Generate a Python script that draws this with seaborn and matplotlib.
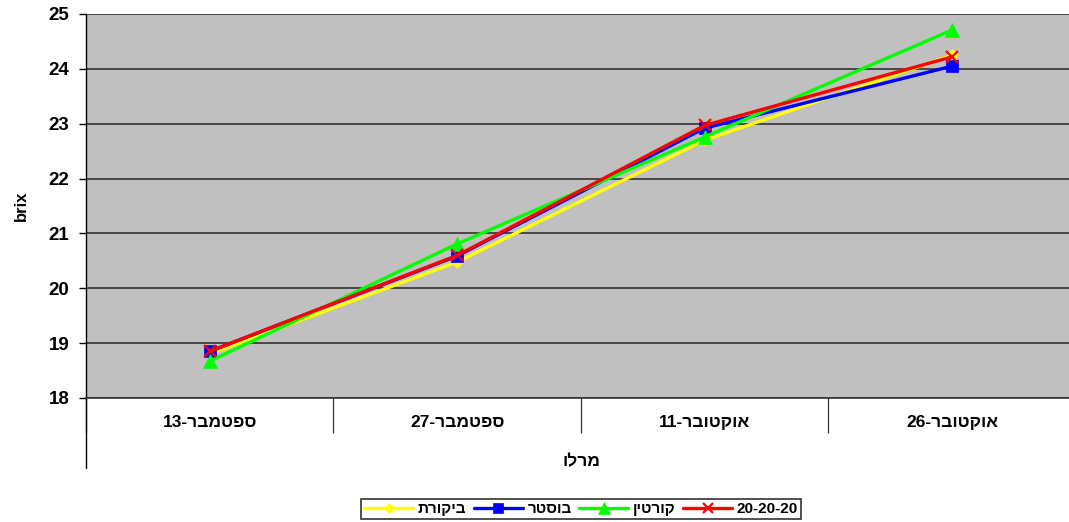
import matplotlib
matplotlib.use("Agg")
import matplotlib.pyplot as plt
import seaborn as sns
import pandas as pd
from matplotlib.lines import Line2D


def vis(s):
    # matplotlib has no bidi support: give glyphs in visual (left-to-right) order
    return s[::-1]

# ---- data ----
categories = ["13-" + vis("ספטמבר"), "27-" + vis("ספטמבר"),
              "11-" + vis("אוקטובר"), "26-" + vis("אוקטובר")]
series_names = [vis("ביקורת"), vis("בוסטר"), vis("קורטין"), "20-20-20"]
control = [18.80, 20.48, 22.70, 24.25]
booster = [18.85, 20.59, 22.92, 24.05]
kortin = [18.67, 20.81, 22.76, 24.71]
npk = [18.85, 20.60, 22.97, 24.22]
y_ticks = [18, 19, 20, 21, 22, 23, 24, 25]
x_title = vis("מרלו")
y_title = "brix"

values = [control, booster, kortin, npk]
colors = ["#FFFF00", "#0000FF", "#00FF00", "#FF0000"]
markers = ["D", "s", "^", "x"]
msizes = [6.5, 8, 9.5, 9]

rows = []
for name, vals in zip(series_names, values):
    for i, v in enumerate(vals):
        rows.append({"series": name, "pos": i, "brix": v})
df = pd.DataFrame(rows)

sns.set_theme(style="white")
plt.rcParams["font.family"] = ["Liberation Sans", "DejaVu Sans"]
plt.rcParams["font.weight"] = "bold"
for k in ["text.color", "axes.labelcolor", "xtick.color", "ytick.color"]:
    plt.rcParams[k] = "black"

fig = plt.figure(figsize=(10.69, 5.22), dpi=100)
W, H = 1069, 522
left, right, top, bottom = 86, 1076, 14, 398
ax = fig.add_axes([left / W, 1 - bottom / H, (right - left) / W, (bottom - top) / H])
ax.set_facecolor("#C0C0C0")

for name, col, mk, ms in zip(series_names, colors, markers, msizes):
    sub = df[df["series"] == name]
    sns.lineplot(data=sub, x="pos", y="brix", ax=ax, color=col, linewidth=2.4,
                 marker=mk, markersize=ms, markeredgecolor=col,
                 markeredgewidth=1.6 if mk == "x" else 0.5, legend=False, zorder=3)

ax.set_xlim(-0.5, len(categories) - 0.5)
ax.set_ylim(y_ticks[0], y_ticks[-1])
ax.set_yticks(y_ticks)
ax.set_yticklabels([str(t) for t in y_ticks], fontsize=13.5, fontweight="bold")
ax.yaxis.grid(True, color="#333333", linewidth=1.2, zorder=1)
ax.set_axisbelow(True)

ax.set_xticks(range(len(categories)))
ax.set_xticklabels(categories, fontsize=12.5, fontweight="bold")
ax.tick_params(axis="x", which="major", length=0, pad=12, bottom=True)
ax.set_xticks([i - 0.5 for i in range(len(categories) + 1)], minor=True)
ax.tick_params(axis="x", which="minor", length=25, width=0.9, color="#333333",
               direction="out", bottom=True)
ax.tick_params(axis="y", which="major", length=5, width=1, color="black",
               direction="out", pad=7, left=True)

for s in ["top", "right"]:
    ax.spines[s].set_visible(False)
ax.spines["bottom"].set_color("#333333")
ax.spines["bottom"].set_linewidth(1.2)
ax.spines["left"].set_color("black")
ax.spines["left"].set_linewidth(1)
# left axis line continues down past the category labels
ax.plot([0, 0], [0, -(468 - bottom) / (bottom - top)], transform=ax.transAxes,
        color="black", linewidth=1, clip_on=False)

ax.set_xlabel(x_title, fontsize=12.5, fontweight="bold", labelpad=12)
ax.set_ylabel(y_title, fontsize=12, fontweight="bold", labelpad=14)

handles = [Line2D([], [], color=c, marker=m, markersize=s * 0.85, linewidth=2.4,
                  markeredgecolor=c, markeredgewidth=1.6 if m == "x" else 0.5)
           for c, m, s in zip(colors, markers, msizes)]
leg = fig.legend(handles, series_names, loc="center", bbox_to_anchor=(581 / W, 1 - 509 / H),
                 ncol=4, frameon=True, fancybox=False, edgecolor="black",
                 prop={"weight": "bold", "size": 11}, handlelength=3.2,
                 handletextpad=0.3, columnspacing=0.5, borderpad=0.2)
leg.get_frame().set_linewidth(1.2)

fig.savefig("out.png", dpi=100, facecolor="white")
